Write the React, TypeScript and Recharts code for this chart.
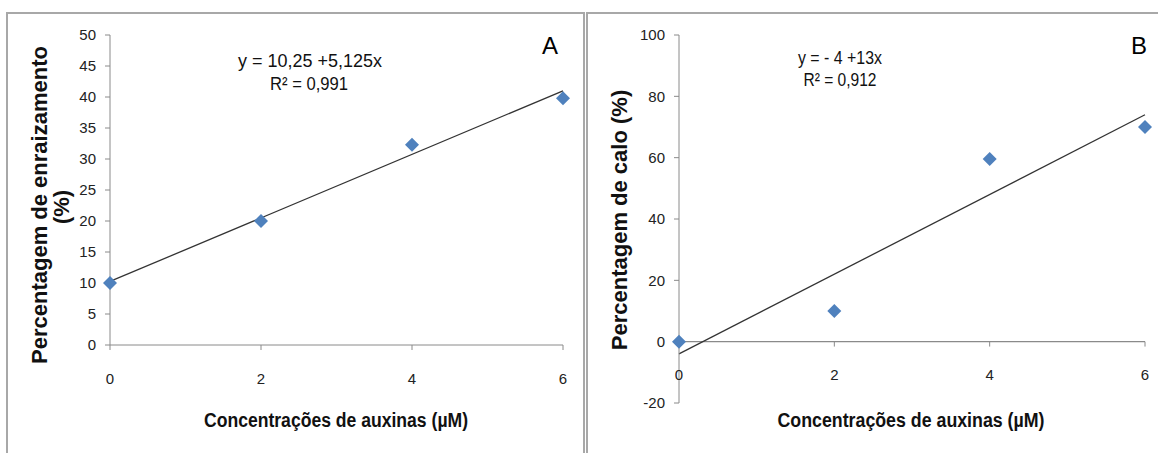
import React from "react";
import { ScatterChart, Scatter, XAxis, YAxis, ReferenceLine } from "recharts";

// ---- data ----
const concentrations = [0, 2, 4, 6];
const xTicks = [0, 2, 4, 6];
const rootingPct = [10, 20, 32.3, 39.8];
const callusPct = [0, 10, 59.6, 70];
const yTicksA = [0, 5, 10, 15, 20, 25, 30, 35, 40, 45, 50];
const yTicksB = [-20, 0, 20, 40, 60, 80, 100];
const trendA = [
  { x: 0, y: 10.25 },
  { x: 6, y: 41 },
];
const trendB = [
  { x: 0, y: -4 },
  { x: 6, y: 74 },
];
const tickMarksB = [2, 4, 6];
const tickMarkDepth = -1.6;

const dataA = concentrations.map((x, i) => ({ x, y: rootingPct[i] }));
const dataB = concentrations.map((x, i) => ({ x, y: callusPct[i] }));

const FONT = "'Liberation Sans', Arial, sans-serif";
const AXIS = "#8a8a8a";
const TICK_TXT = "#222";
const BLUE = "#4F81BD";

const Diamond = (props: any) => {
  const { cx, cy } = props;
  const r = 7;
  return (
    <polygon
      points={`${cx},${cy - r} ${cx + r},${cy} ${cx},${cy + r} ${cx - r},${cy}`}
      fill={BLUE}
    />
  );
};

const BTick = (props: any) => {
  const { x, y, payload } = props;
  return (
    <text x={x} y={y - 28} dy="0.35em" textAnchor="middle" fontSize={15} fontFamily={FONT} fill={TICK_TXT}>
      {payload.value}
    </text>
  );
};

export default function App() {
  return (
    <div style={{ position: "absolute", left: 0, top: 0, width: 1158, height: 453, overflow: "hidden", background: "#fff" }}>
      <div style={{ position: "absolute", left: 6, top: 12, width: 579, height: 520, border: "2px solid #a8a8a8", boxSizing: "border-box" }} />
      <div style={{ position: "absolute", left: 586, top: 12, width: 700, height: 520, border: "2px solid #a8a8a8", boxSizing: "border-box" }} />

      <div style={{ position: "absolute", left: 0, top: 0 }}>
        <ScatterChart width={580} height={453} margin={{ top: 35, right: 17, bottom: 58, left: 50 }}>
          <XAxis
            type="number"
            dataKey="x"
            domain={[0, 6]}
            ticks={xTicks}
            height={50}
            tickSize={5}
            tickMargin={23}
            stroke={AXIS}
            tick={{ fill: TICK_TXT, fontSize: 15, fontFamily: FONT }}
          />
          <YAxis
            type="number"
            dataKey="y"
            domain={[0, 50]}
            ticks={yTicksA}
            width={60}
            tickSize={5}
            tickMargin={9}
            stroke={AXIS}
            tick={{ fill: TICK_TXT, fontSize: 15, fontFamily: FONT }}
          />
          <ReferenceLine segment={trendA} stroke="#333" strokeWidth={1.3} />
          <Scatter data={dataA} shape={Diamond} isAnimationActive={false} />
        </ScatterChart>
      </div>

      <div style={{ position: "absolute", left: 580, top: 0 }}>
        <ScatterChart width={578} height={453} margin={{ top: 35, right: 13, bottom: 20, left: 39 }}>
          <XAxis
            type="number"
            dataKey="x"
            domain={[0, 6]}
            ticks={xTicks}
            height={30}
            tickSize={0}
            tickMargin={0}
            axisLine={false}
            tickLine={false}
            tick={<BTick />}
          />
          <YAxis
            type="number"
            dataKey="y"
            domain={[-20, 100]}
            ticks={yTicksB}
            width={60}
            tickSize={5}
            tickMargin={9}
            stroke={AXIS}
            tick={{ fill: TICK_TXT, fontSize: 15, fontFamily: FONT }}
          />
          <ReferenceLine y={0} stroke={AXIS} strokeWidth={1.3} />
          {tickMarksB.map((t) => (
            <ReferenceLine key={t} segment={[{ x: t, y: 0 }, { x: t, y: tickMarkDepth }]} stroke={AXIS} />
          ))}
          <ReferenceLine segment={trendB} stroke="#333" strokeWidth={1.3} />
          <Scatter data={dataB} shape={Diamond} isAnimationActive={false} />
        </ScatterChart>
      </div>

      <svg width={1158} height={453} style={{ position: "absolute", left: 0, top: 0, pointerEvents: "none" }} fontFamily={FONT}>
        {/* Panel A texts */}
        <text transform="translate(39,205) rotate(-90)" textAnchor="middle" dominantBaseline="central" fontSize={22} fontWeight="bold" fill="#111">
          Percentagem de enraizamento
        </text>
        <text transform="translate(61,207) rotate(-90)" textAnchor="middle" dominantBaseline="central" fontSize={22} fontWeight="bold" fill="#111">
          (%)
        </text>
        <text x={336} y={420} textAnchor="middle" dominantBaseline="central" fontSize={20} fontWeight="bold" fill="#111" textLength={264} lengthAdjust="spacingAndGlyphs">
          Concentrações de auxinas (µM)
        </text>
        <text x={310} y={60} textAnchor="middle" dominantBaseline="central" fontSize={19} fill="#111" textLength={144} lengthAdjust="spacingAndGlyphs">
          y = 10,25 +5,125x
        </text>
        <text x={309} y={83} textAnchor="middle" dominantBaseline="central" fontSize={19} fill="#111" textLength={78} lengthAdjust="spacingAndGlyphs">
          R² = 0,991
        </text>
        <text x={550} y={45} textAnchor="middle" dominantBaseline="central" fontSize={24} fill="#000">
          A
        </text>

        {/* Panel B texts */}
        <text transform="translate(619,220) rotate(-90)" textAnchor="middle" dominantBaseline="central" fontSize={22} fontWeight="bold" fill="#111">
          Percentagem de calo (%)
        </text>
        <text x={911} y={420} textAnchor="middle" dominantBaseline="central" fontSize={20} fontWeight="bold" fill="#111" textLength={267} lengthAdjust="spacingAndGlyphs">
          Concentrações de auxinas (µM)
        </text>
        <text x={840} y={57} textAnchor="middle" dominantBaseline="central" fontSize={19} fill="#111" textLength={84} lengthAdjust="spacingAndGlyphs">
          y = - 4 +13x
        </text>
        <text x={840} y={79} textAnchor="middle" dominantBaseline="central" fontSize={19} fill="#111" textLength={73} lengthAdjust="spacingAndGlyphs">
          R² = 0,912
        </text>
        <text x={1139} y={45} textAnchor="middle" dominantBaseline="central" fontSize={24} fill="#000">
          B
        </text>
      </svg>
    </div>
  );
}
